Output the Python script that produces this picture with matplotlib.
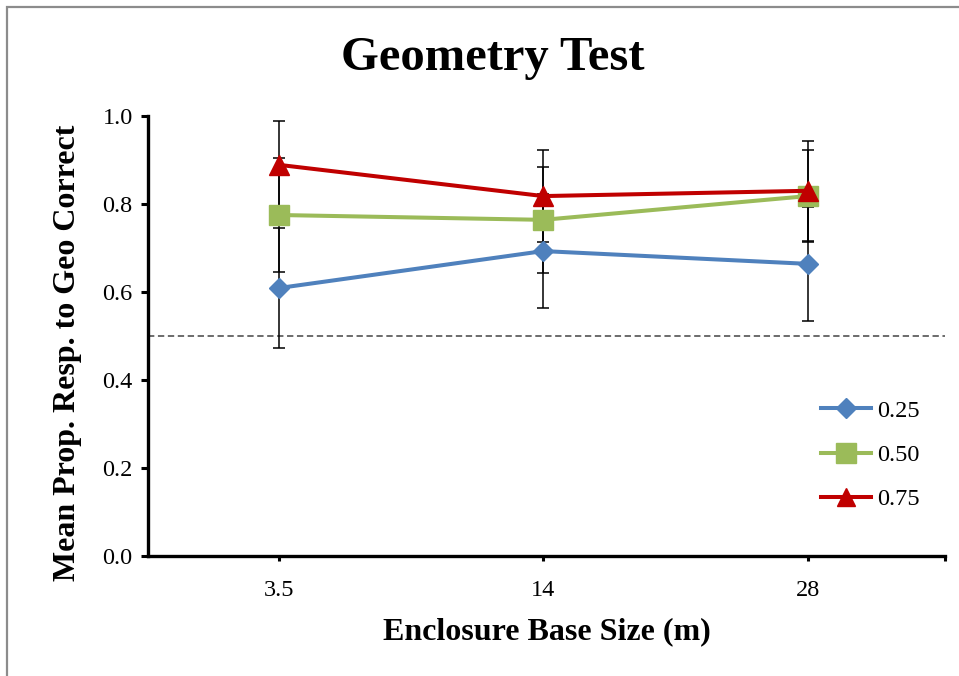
import matplotlib
matplotlib.use("Agg")
import matplotlib.pyplot as plt
from matplotlib.patches import Rectangle
from matplotlib.ticker import FormatStrFormatter

sizes = ["3.5", "14", "28"]
series_labels = ["0.25", "0.50", "0.75"]
means_25 = [0.609, 0.693, 0.664]
err_25 = [0.136, 0.129, 0.130]
means_50 = [0.775, 0.764, 0.818]
err_50 = [0.130, 0.120, 0.105]
means_75 = [0.889, 0.818, 0.830]
err_75 = [0.100, 0.105, 0.113]
chance = 0.5

plt.rcParams['font.family'] = ['Liberation Serif', 'DejaVu Serif']

fig = plt.figure(figsize=(9.59, 6.76), dpi=100)
ax = fig.add_axes([148/959, 1-556/676, (945-148)/959, (556-116)/676])

x = list(range(len(sizes)))
styles = [
    (means_25, err_25, '#4F81BD', 'D', 10.5),
    (means_50, err_50, '#9BBB59', 's', 15),
    (means_75, err_75, '#C00000', '^', 14),
]
ax.axhline(chance, color='#606060', lw=1.3, ls=(0, (3.5, 2)), zorder=1)
for (m, e, c, mk, ms), lab in zip(styles, series_labels):
    ax.errorbar(x, m, yerr=e, fmt='none', ecolor='black', elinewidth=1.1,
                capsize=4.5, capthick=1.1, zorder=2)
    ax.plot(x, m, color=c, lw=2.9, marker=mk, ms=ms, mec=c, mfc=c,
            label=lab, zorder=3)

ax.set_xlim(-0.495, 2.52)
ax.set_ylim(0, 1.0)
ax.set_yticks([0, 0.2, 0.4, 0.6, 0.8, 1.0])
ax.yaxis.set_major_formatter(FormatStrFormatter('%.1f'))
ax.set_xticks(x)
ax.set_xticklabels(sizes)
ax.set_xticks([2.52], minor=True)
for s in ['top', 'right']:
    ax.spines[s].set_visible(False)
for s in ['left', 'bottom']:
    ax.spines[s].set_linewidth(2.4)
ax.tick_params(axis='y', which='major', length=5, width=2.2, labelsize=17.5, pad=6, direction='out')
ax.tick_params(axis='x', which='both', length=3.5, width=2.2, labelsize=17.5, pad=14, direction='out')

fig.text(493/959, 1-58/676, "Geometry Test", ha='center', va='center',
         fontsize=35, fontweight='bold')
fig.text(547/959, 1-632/676, "Enclosure Base Size (m)", ha='center', va='center',
         fontsize=23, fontweight='bold')
fig.text(68/959, 1-353/676, "Mean Prop. Resp. to Geo Correct", ha='center', va='center',
         fontsize=23, fontweight='bold', rotation=90)

leg = ax.legend(loc='center left', bbox_to_anchor=(809/959, 1-455/676),
                bbox_transform=fig.transFigure, frameon=False, fontsize=17.5,
                handlelength=2.05, handletextpad=0.25, labelspacing=0.92,
                borderpad=0, markerscale=0.95)

fig.patches.append(Rectangle((7/959, -0.1), 1.2, 1.1 - 7/676, transform=fig.transFigure,
                             fill=False, edgecolor='#8c8c8c', lw=1.6, zorder=0))

fig.savefig("out.png", dpi=100)
